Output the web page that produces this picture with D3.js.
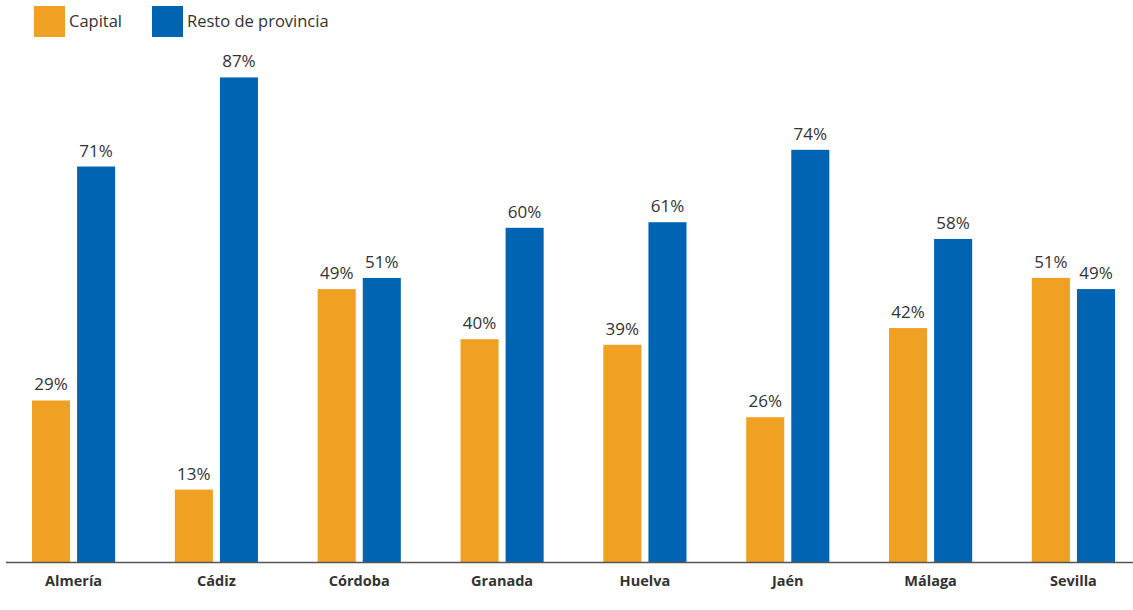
<!DOCTYPE html>
<html><head><meta charset="utf-8">
<script src="https://cdn.jsdelivr.net/npm/d3@7"></script>
<style>body{margin:0;background:#fff}svg{display:block}text{font-family:"Open Sans",sans-serif}</style>
</head><body>
<script>
const categories = ["Almería","Cádiz","Córdoba","Granada","Huelva","Jaén","Málaga","Sevilla"];
const series = ["Capital","Resto de provincia"];
const capital = [29,13,49,40,39,26,42,51];
const resto = [71,87,51,60,61,74,58,49];
const colors = ["#F0A023","#0064B2"];

const W=1133,H=610;
const svg=d3.select("body").append("svg").attr("width",W).attr("height",H);
const x0=d3.scaleBand().domain(categories).range([32,1115]).paddingInner(0.418).paddingOuter(0);
const x1=d3.scaleBand().domain(series).range([0,x0.bandwidth()]).paddingInner(0.156);
const y=d3.scaleLinear().domain([0,100]).range([562,5]);
const color=d3.scaleOrdinal().domain(series).range(colors);

const data=categories.map((c,i)=>({cat:c,vals:[{s:series[0],v:capital[i]},{s:series[1],v:resto[i]}]}));
const g=svg.selectAll("g.grp").data(data).join("g").attr("transform",d=>`translate(${x0(d.cat)},0)`);
g.selectAll("rect").data(d=>d.vals).join("rect")
 .attr("x",d=>x1(d.s)).attr("width",x1.bandwidth())
 .attr("y",d=>y(d.v)).attr("height",d=>y(0)-y(d.v)).attr("fill",d=>color(d.s));
g.selectAll("text.val").data(d=>d.vals).join("text").attr("class","val")
 .attr("x",d=>x1(d.s)+x1.bandwidth()/2).attr("y",d=>y(d.v)-10)
 .attr("text-anchor","middle").attr("font-size",17).attr("fill","#333")
 .text(d=>d.v+"%");

const ax=svg.append("g").attr("transform",`translate(0,${y(0)})`).call(d3.axisBottom(x0).tickSize(0).tickPadding(14));
ax.select(".domain").remove();
ax.selectAll("text").attr("font-size",14.5).attr("font-weight","bold").attr("fill","#333").attr("font-family","'Open Sans',sans-serif");
svg.append("line").attr("x1",6).attr("x2",W).attr("y1",y(0)+0.5).attr("y2",y(0)+0.5).attr("stroke","#555").attr("stroke-width",1.5);

const leg=svg.append("g");
const lx=[34,152];
series.forEach((s,i)=>{
  leg.append("rect").attr("x",lx[i]).attr("y",6).attr("width",31).attr("height",31).attr("fill",color(s));
  leg.append("text").attr("x",lx[i]+35).attr("y",27).attr("font-size",16.5).attr("fill","#333").text(s);
});
</script>
</body></html>
